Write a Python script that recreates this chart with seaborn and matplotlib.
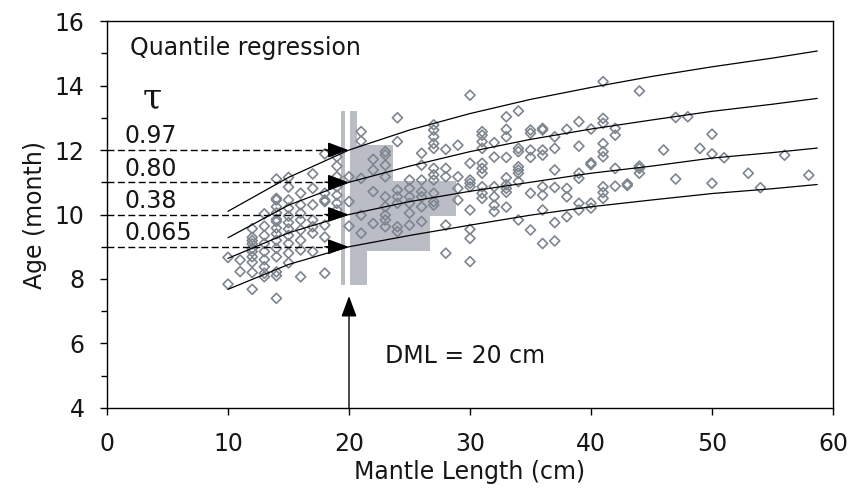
import matplotlib
matplotlib.use("Agg")
import matplotlib.pyplot as plt
import pandas as pd
import seaborn as sns
from matplotlib.ticker import MultipleLocator

# mantle length (cm) and the ages (month) read at each length
lengths = [10, 11, 12, 13, 14, 15, 16, 17, 18, 19, 20, 21, 22, 23, 24, 25, 26, 27,
           28, 29, 30, 31, 32, 33, 34, 35, 36, 37, 38, 39, 40, 41, 42, 43, 44, 46,
           47, 48, 49, 50, 51, 53, 54, 56, 58]
ages = [
    [8.67, 7.84],
    [8.59, 8.23],
    [9.56, 9.29, 9.19, 9.09, 8.95, 8.85, 8.69, 8.52, 8.2, 7.68],
    [10.02, 9.64, 9.35, 9.1, 8.85, 8.6, 8.38, 8.18, 8.07],
    [11.1, 10.5, 10.45, 10.24, 10.05, 9.85, 9.78, 9.58, 9.4, 9.2, 8.95, 8.69, 8.22, 8.1, 7.4],
    [11.15, 10.85, 10.45, 10.2, 9.95, 9.75, 9.55, 9.35, 9.1, 8.8, 8.5],
    [10.66, 10.3, 10.04, 9.83, 9.52, 9.2, 8.9, 8.07],
    [11.26, 10.81, 10.3, 9.83, 9.62, 9.42, 8.85],
    [11.88, 10.66, 10.45, 10.4, 9.67, 9.3, 8.18],
    [11.79, 11.5, 11.17, 10.86, 10.6, 10.35, 10.14],
    [11.17, 10.4, 9.64],
    [12.57, 12.28, 11.12, 9.98, 9.42],
    [11.71, 11.38, 10.71, 9.72],
    [11.95, 11.85, 11.53, 11.17, 10.55, 10.24, 9.98, 9.83, 9.62],
    [13.0, 12.26, 10.76, 10.55, 10.35, 9.62, 9.47],
    [11.07, 10.81, 10.55, 10.35, 10.04, 9.67],
    [11.9, 11.53, 11.07, 10.71, 10.55, 10.24, 9.78],
    [12.78, 12.62, 12.41, 12.2, 12.05, 11.43, 11.23, 11.07, 10.66, 10.4, 10.29],
    [12.02, 11.43, 11.17, 9.67, 8.8],
    [12.15, 11.17, 10.81, 10.45],
    [13.7, 11.59, 11.07, 10.97, 10.86, 10.14, 9.54, 9.26, 8.54],
    [12.57, 12.46, 12.26, 12.05, 11.59, 11.43, 11.28, 10.86, 10.66, 10.5],
    [12.23, 11.78, 10.86, 10.55, 10.29, 10.09],
    [13.03, 12.64, 12.41, 11.77, 11.14, 10.92, 10.81, 10.69, 10.23],
    [13.21, 12.05, 11.95, 11.48, 11.38, 11.28, 11.02, 9.83],
    [12.62, 12.52, 12.0, 11.77, 10.66, 9.52],
    [12.67, 12.62, 12.0, 11.84, 10.86, 10.6, 10.14, 9.1],
    [12.41, 12.05, 11.38, 10.84, 9.75, 9.18],
    [12.64, 10.81, 10.55, 9.93],
    [12.88, 12.12, 11.28, 11.12, 10.35, 10.14],
    [12.65, 11.6, 11.55, 10.35, 10.2],
    [14.12, 12.98, 12.83, 12.2, 11.95, 11.79, 10.86, 10.68, 10.5],
    [12.67, 12.46, 11.43, 10.88],
    [10.95, 10.9],
    [13.83, 11.5, 11.43, 11.28],
    [12.0],
    [13.01, 11.1],
    [13.03],
    [12.05],
    [12.49, 11.88, 10.97],
    [11.76],
    [11.28],
    [10.83],
    [11.84],
    [11.22],
]

# fitted quantile curves
curve_x = [10, 15, 20, 25, 30, 35, 40, 45, 50, 55, 58.7]
curve_097 = [10.1, 11.15, 12.0, 12.62, 13.13, 13.57, 13.94, 14.28, 14.58, 14.85, 15.07]
curve_080 = [9.28, 10.29, 11.0, 11.5, 11.95, 12.33, 12.65, 12.93, 13.2, 13.42, 13.6]
curve_038 = [8.64, 9.43, 10.0, 10.4, 10.72, 11.0, 11.28, 11.5, 11.75, 11.92, 12.06]
curve_0065 = [7.68, 8.45, 9.0, 9.35, 9.67, 9.98, 10.24, 10.45, 10.65, 10.8, 10.93]

tau_labels = ["0.97", "0.80", "0.38", "0.065"]
tau_ages = [12, 11, 10, 9]
dml = 20

# grey stepped block
block_left = [19.35, 20.1, 20.7, 21.5, 23.66, 26.7]
block_right = [19.68, 20.7, 21.5, 23.66, 26.7, 28.83]
block_low = [7.8, 7.8, 7.8, 8.88, 8.88, 9.95]
block_high = [13.2, 13.2, 12.16, 12.16, 11.04, 11.04]

points = pd.DataFrame({"ml": lengths, "age": ages}).explode("age")
points["age"] = points["age"].astype(float)

sns.set_style("ticks")
ink = "#161616"
plt.rcParams.update({
    "font.family": ["DejaVu Sans"],
    "font.size": 17,
    "text.color": ink,
    "axes.labelcolor": ink,
    "xtick.color": ink,
    "ytick.color": ink,
})

fig = plt.figure(figsize=(8.48, 4.97), dpi=100)
ax = fig.add_axes([0.1262, 0.1791, 0.8561, 0.7786])

widths = [r - l for l, r in zip(block_left, block_right)]
heights = [h - l for l, h in zip(block_low, block_high)]
ax.bar(block_left, heights, width=widths, bottom=block_low, align="edge",
       color="#babdc6", linewidth=0, zorder=1)

sns.scatterplot(data=points, x="ml", y="age", marker="D", s=26,
                facecolors="none", edgecolor="#7d858f", linewidth=1.2,
                ax=ax, zorder=2)

for ys in [curve_097, curve_080, curve_038, curve_0065]:
    sns.lineplot(x=curve_x, y=ys, color="black", linewidth=0.9, ax=ax, zorder=3)

head = "-|>,head_length=0.75,head_width=0.28"
for lab, a in zip(tau_labels, tau_ages):
    ax.plot([0, 19.0], [a, a], color="black", linewidth=1.0,
            linestyle=(0, (5, 2.5)), zorder=3)
    ax.annotate("", xy=(19.95, a), xytext=(18.0, a),
                arrowprops=dict(arrowstyle=head, color="black", linewidth=1.0,
                                shrinkA=0, shrinkB=0),
                zorder=4)
    ax.text(1.45, a + 0.42, lab, ha="left", va="center", fontsize=17)

ax.annotate("", xy=(dml, 7.47), xytext=(dml, 4),
            arrowprops=dict(arrowstyle=head, color="black", linewidth=1.0,
                            shrinkA=0, shrinkB=0))

ax.text(3.7, 13.6, "τ", ha="center", va="center", fontsize=25, family="DejaVu Serif")
ax.text(1.9, 15.16, "Quantile regression", ha="left", va="center", fontsize=17)
ax.text(23.0, 5.61, "DML = 20 cm", ha="left", va="center", fontsize=17)

ax.set_xlim(0, 60)
ax.set_ylim(4, 16)
ax.xaxis.set_major_locator(MultipleLocator(10))
ax.yaxis.set_major_locator(MultipleLocator(2))
ax.yaxis.set_minor_locator(MultipleLocator(1))
ax.tick_params(axis="both", which="major", direction="out", length=5, width=1,
               labelsize=17, color="black")
ax.tick_params(axis="y", which="minor", direction="out", length=4.5, width=1,
               color="black")
ax.tick_params(axis="x", pad=12)
ax.tick_params(axis="y", pad=11)
for sp in ax.spines.values():
    sp.set_visible(True)
    sp.set_linewidth(1.0)
    sp.set_color("black")

ax.set_xlabel("Mantle Length (cm)", fontsize=17, labelpad=3)
ax.set_ylabel("Age (month)", fontsize=17, labelpad=6)

fig.savefig("out.png", dpi=100)
